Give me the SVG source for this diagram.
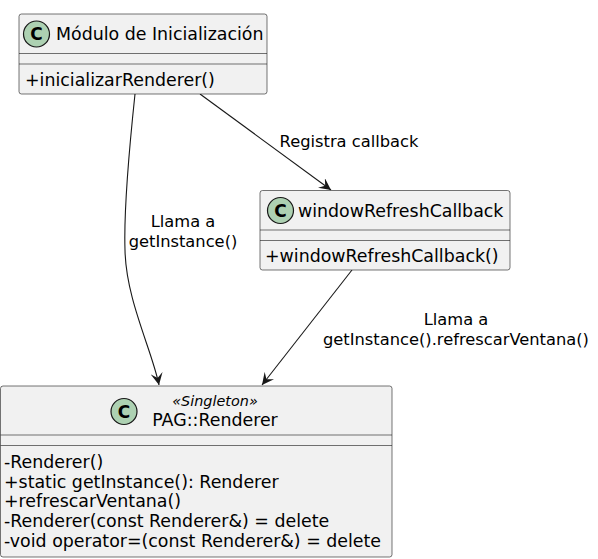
<svg xmlns="http://www.w3.org/2000/svg" width="598" height="559" viewBox="0 0 598 559">
<style>
.box{fill:#F1F1F1;stroke:#181818;stroke-width:0.6}
.sep{stroke:#181818;stroke-width:0.6}
.circ{fill:#ADD1B2;stroke:#181818;stroke-width:1.2}
.t{font-family:"DejaVu Sans",sans-serif;font-size:17.4px;fill:#000}
.c{font-family:"DejaVu Sans",sans-serif;font-size:17px;font-weight:bold;fill:#000}
.lbl{font-family:"DejaVu Sans",sans-serif;font-size:16.3px;fill:#000}
.st{font-family:"DejaVu Sans",sans-serif;font-size:14.4px;font-style:italic;fill:#000}
.edge{fill:none;stroke:#181818;stroke-width:1.1}
</style>
<defs>
<marker id="arr" viewBox="0 0 10 10" refX="10" refY="5" markerWidth="12" markerHeight="12" markerUnits="userSpaceOnUse" orient="auto">
<path d="M0,0 L10,5 L0,10 L4,5 Z" fill="#181818"/>
</marker>
</defs>
<g id="connectors">
<path class="edge" d="M135,94 C128,160 124,220 125,250 C126,300 152,350 159,385" marker-end="url(#arr)"/>
<text class="lbl" x="183" y="227" text-anchor="middle">Llama a</text>
<text class="lbl" x="183" y="247" text-anchor="middle">getInstance()</text>
<path class="edge" d="M200,94 L331,190" marker-end="url(#arr)"/>
<text class="lbl" x="349" y="147" text-anchor="middle">Registra callback</text>
<path class="edge" d="M352,270 L262,385" marker-end="url(#arr)"/>
<text class="lbl" x="456" y="325" text-anchor="middle">Llama a</text>
<text class="lbl" x="456" y="345" text-anchor="middle">getInstance().refrescarVentana()</text>
</g>
<g id="modulo">
<rect class="box" x="19" y="14" width="248" height="80" rx="2.5"/>
<circle class="circ" cx="36.5" cy="34" r="13"/>
<text class="c" x="36.5" y="40" text-anchor="middle">C</text>
<text class="t" x="56" y="40">Módulo de Inicialización</text>
<line class="sep" x1="19" y1="53.5" x2="267" y2="53.5"/>
<line class="sep" x1="19" y1="64" x2="267" y2="64"/>
<text class="t" x="25" y="86">+inicializarRenderer()</text>
</g>
<g id="windowRefreshCallback">
<rect class="box" x="260" y="190.5" width="250" height="79.5" rx="2.5"/>
<circle class="circ" cx="280.5" cy="210.5" r="13"/>
<text class="c" x="280.5" y="216.5" text-anchor="middle">C</text>
<text class="t" x="298" y="217">windowRefreshCallback</text>
<line class="sep" x1="260" y1="230" x2="510" y2="230"/>
<line class="sep" x1="260" y1="240.5" x2="510" y2="240.5"/>
<text class="t" x="265" y="262">+windowRefreshCallback()</text>
</g>
<g id="renderer">
<rect class="box" x="0.5" y="386" width="391.5" height="171" rx="2.5"/>
<circle class="circ" cx="124" cy="411.5" r="13"/>
<text class="c" x="124" y="417.5" text-anchor="middle">C</text>
<text class="st" x="215" y="406" text-anchor="middle">«Singleton»</text>
<text class="t" x="215" y="426" text-anchor="middle">PAG::Renderer</text>
<line class="sep" x1="0.5" y1="435" x2="392" y2="435"/>
<line class="sep" x1="0.5" y1="445.5" x2="392" y2="445.5"/>
<text class="t" x="4" y="467.5">-Renderer()</text>
<text class="t" x="4" y="487.5">+static getInstance(): Renderer</text>
<text class="t" x="4" y="507">+refrescarVentana()</text>
<text class="t" x="4" y="527">-Renderer(const Renderer&amp;) = delete</text>
<text class="t" x="4" y="546.5">-void operator=(const Renderer&amp;) = delete</text>
</g>
</svg>
